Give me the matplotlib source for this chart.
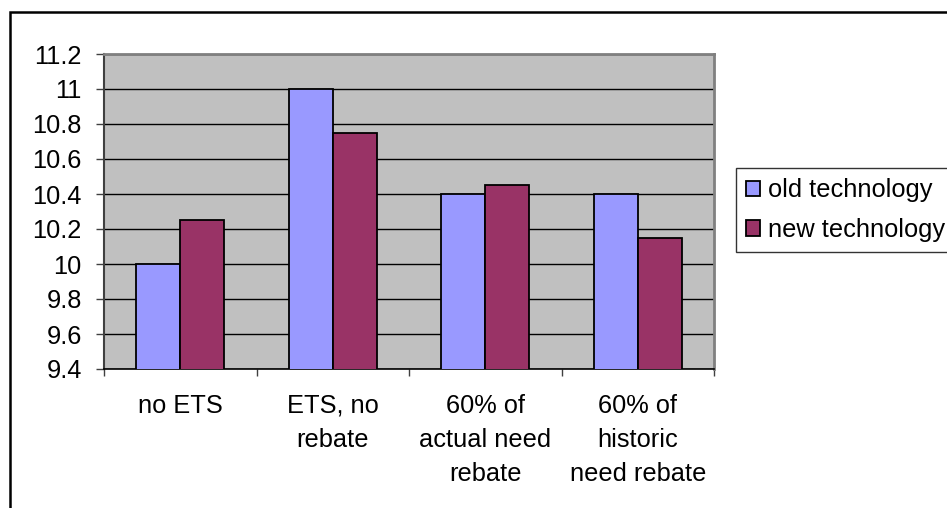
import matplotlib
matplotlib.use("Agg")
import matplotlib.pyplot as plt
from matplotlib.patches import Rectangle
import numpy as np

categories = ["no ETS", "ETS, no\nrebate", "60% of\nactual need\nrebate", "60% of\nhistoric\nneed rebate"]
old_tech = [10.0, 11.0, 10.4, 10.4]
new_tech = [10.25, 10.75, 10.45, 10.15]
series_names = ["old technology", "new technology"]
yticks = [9.4, 9.6, 9.8, 10.0, 10.2, 10.4, 10.6, 10.8, 11.0, 11.2]
ytick_labels = ["9.4", "9.6", "9.8", "10", "10.2", "10.4", "10.6", "10.8", "11", "11.2"]

plt.rcParams['font.family'] = ['Liberation Sans', 'DejaVu Sans']
FS = 18.3

W, H = 947, 508
fig = plt.figure(figsize=(W / 100, H / 100), dpi=100)

# outer chart frame (only left and top edges visible)
fig.patches.append(Rectangle((10 / W, -0.1), 1.2, (H - 12) / H + 0.1, transform=fig.transFigure,
                             fill=False, edgecolor='black', linewidth=1.8))

ax = fig.add_axes([104 / W, (H - 369) / H, (714 - 104) / W, (369 - 54) / H])
ax.set_facecolor('#C0C0C0')

x = np.arange(len(categories))
bw = 0.2885
ax.bar(x - bw / 2, old_tech, bw, color='#9999FF', edgecolor='black', linewidth=1.3,
       label=series_names[0], zorder=3)
ax.bar(x + bw / 2, new_tech, bw, color='#993366', edgecolor='black', linewidth=1.3,
       label=series_names[1], zorder=3)

ax.set_xlim(-0.5, len(categories) - 0.5)
ax.set_ylim(9.4, 11.2)
ax.set_yticks(yticks)
ax.set_yticklabels(ytick_labels, fontsize=FS)
ax.yaxis.grid(True, color='black', linewidth=1.0, zorder=1)
ax.set_axisbelow(True)

ax.set_xticks(x)
ax.set_xticklabels(categories, fontsize=FS, linespacing=1.52, va='top', ha='center')
ax.set_xticks(np.arange(-0.5, len(categories), 1.0), minor=True)
ax.tick_params(axis='x', which='major', length=0, pad=18)
ax.tick_params(axis='x', which='minor', length=5, width=1, color='#404040', direction='out')
ax.tick_params(axis='y', length=6, width=1, color='#404040', direction='out', pad=10)

for s in ['top', 'right']:
    ax.spines[s].set_color('#808080')
    ax.spines[s].set_linewidth(2)
ax.spines['left'].set_color('#404040')
ax.spines['left'].set_linewidth(1.5)
ax.spines['bottom'].set_color('black')
ax.spines['bottom'].set_linewidth(1.2)

leg = ax.legend(loc='upper left', bbox_to_anchor=(736 / W, (H - 168) / H),
                bbox_transform=fig.transFigure, fontsize=18.3, frameon=True, fancybox=False,
                edgecolor='black', handlelength=0.55, handleheight=0.55, handletextpad=0.3,
                labelspacing=0.62, borderpad=0.4, borderaxespad=0)
leg.get_frame().set_linewidth(1.0)

fig.savefig("out.png", dpi=100)
